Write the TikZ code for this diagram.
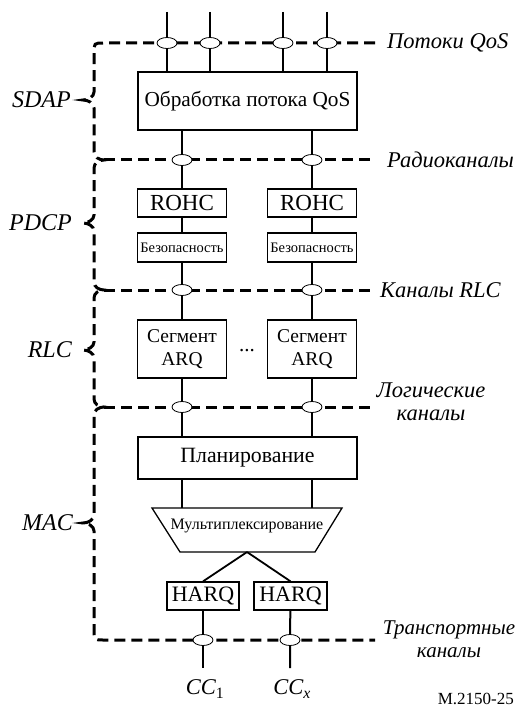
\documentclass[tikz,border=0pt]{standalone}
\usepackage{fontspec}
\setmainfont{Liberation Serif}
\newfontfamily\diagfont{Liberation Serif}
\usetikzlibrary{shapes.geometric}
\begin{document}
\begin{tikzpicture}[x=1pt,y=-1pt,
  box/.style={draw,line width=1.3pt,inner sep=0pt,align=center,font=\diagfont\fontsize{21}{24}\selectfont},
  port/.style={draw,ellipse,fill=white,line width=0.8pt,minimum width=20pt,minimum height=11pt,inner sep=0pt},
  link/.style={line width=2pt},
  layer/.style={line width=3pt,dash pattern=on 11pt off 6pt},
  lbl/.style={inner sep=0pt,font=\diagfont\fontsize{22.5}{23}\selectfont\itshape},
  small/.style={font=\diagfont\fontsize{14.5}{16}\selectfont}]
\useasboundingbox (0,0) rectangle (518,711);

% processing blocks
\node[box,font=\diagfont\fontsize{21.3}{24}\selectfont,minimum width=219pt,minimum height=58pt] (qos) at (247.5,101) {Обработка потока QoS};
\node[box,font=\diagfont\fontsize{23}{24}\selectfont,minimum width=89pt,minimum height=28pt] (rohc1) at (182,203) {ROHC};
\node[box,font=\diagfont\fontsize{23}{24}\selectfont,minimum width=89pt,minimum height=28pt] (rohc2) at (312,203) {ROHC};
\node[box,small,minimum width=89pt,minimum height=29pt] (sec1) at (182,247.5) {Безопасность};
\node[box,small,minimum width=89pt,minimum height=29pt] (sec2) at (312,247.5) {Безопасность};
\node[box,font=\diagfont\fontsize{19.5}{23}\selectfont,minimum width=89pt,minimum height=58pt] (seg1) at (182,349) {Сегмент\\ARQ};
\node[box,font=\diagfont\fontsize{19.5}{23}\selectfont,minimum width=89pt,minimum height=58pt] (seg2) at (312,349) {Сегмент\\ARQ};
\node[font=\diagfont\fontsize{21}{22}\selectfont] (dots) at (247,351) {...};
\node[box,font=\diagfont\fontsize{21.8}{24}\selectfont,minimum width=219pt,minimum height=42pt] (plan) at (247.5,458) {Планирование};
\node[box,font=\diagfont\fontsize{22}{24}\selectfont,minimum width=72pt,minimum height=28pt] (harq1) at (203,596) {HARQ};
\node[box,font=\diagfont\fontsize{22}{24}\selectfont,minimum width=73pt,minimum height=28pt] (harq2) at (290.5,596) {HARQ};

% multiplexing trapezoid
\coordinate (muxtop) at (247,508);
\coordinate (muxbot) at (247,552);
\draw[line width=1.3pt] (152,508) -- (342,508) -- (315,552) -- (180,552) -- cycle;
\node[font=\diagfont\fontsize{16}{17}\selectfont] (mux) at (247,526) {Мультиплексирование};

% left layer boundary with braces
\draw[layer] (375,43) -- (104,43) .. controls (94,43) .. (94,53)
  -- (94,92) .. controls (94,97) and (88,100) .. (83,100) .. controls (88,100) and (94,103) .. (94,108)
  -- (94,152) .. controls (94,157) and (99,160) .. (104,160) .. controls (99,160) and (94,163) .. (94,168)
  -- (94,215) .. controls (94,220) and (88,223) .. (83,223) .. controls (88,223) and (94,226) .. (94,231)
  -- (94,282) .. controls (94,287) and (99,290) .. (104,290) .. controls (99,290) and (94,293) .. (94,298)
  -- (94,342) .. controls (94,347) and (88,350) .. (83,350) .. controls (88,350) and (94,353) .. (94,358)
  -- (94,399) .. controls (94,404) and (99,407) .. (104,407) .. controls (99,407) and (94,410) .. (94,415)
  -- (94,515) .. controls (94,520) and (88,523) .. (83,523) .. controls (88,523) and (94,526) .. (94,531)
  -- (94,630) .. controls (94,640) .. (104,640) -- (375,640);
\draw[layer] (104,160) -- (375,160);
\draw[layer] (104,290) -- (375,290);
\draw[layer] (104,407) -- (375,407);

% ports on the layer boundaries
\node[port] (q1) at (167,43) {};
\node[port] (q2) at (210,43) {};
\node[port] (q3) at (283,43) {};
\node[port] (q4) at (327,43) {};
\node[port] (r1) at (182,160) {};
\node[port] (r2) at (312,160) {};
\node[port] (c1) at (182,290) {};
\node[port] (c2) at (312,290) {};
\node[port] (g1) at (182,407) {};
\node[port] (g2) at (312,407) {};
\node[port] (k1) at (203,640) {};
\node[port] (k2) at (290,640) {};

% flow ends
\coordinate (t1) at (167,12);
\coordinate (t2) at (210,12);
\coordinate (t3) at (283,12);
\coordinate (t4) at (327,12);
\coordinate (b1) at (203,668);
\coordinate (b2) at (290,668);

% connectors
\foreach \i in {1,2,3,4} \draw[link] (t\i) -- (q\i) -- (q\i |- qos.north);
\foreach \i in {1,2} {
  \draw[link] (qos.south -| r\i) -- (r\i) -- (rohc\i);
  \draw[link] (rohc\i) -- (sec\i) -- (c\i) -- (seg\i) -- (g\i) -- (g\i |- plan.north);
  \draw[link] (plan.south -| g\i) -- (g\i |- muxtop);
  \draw[link] (harq\i) -- (k\i) -- (b\i);
}
\draw[line width=1.8pt] (muxbot) -- (harq1.north);
\draw[line width=1.8pt] (muxbot) -- (harq2.north);

% labels
\node[lbl,anchor=west] (lq) at (387,43) {Потоки QoS};
\node[lbl,anchor=west] (lr) at (387,160) {Радиоканалы};
\node[lbl,anchor=west] (lc) at (380,290) {Каналы RLC};
\node[lbl,align=center] (lg) at (431,402) {Логические\\каналы};
\node[lbl,font=\diagfont\fontsize{21}{22.5}\selectfont\itshape,align=center] (lt) at (449,639) {Транспортные\\каналы};
\node[lbl,font=\diagfont\fontsize{24}{25}\selectfont\itshape,anchor=east] (ls) at (71,100) {SDAP};
\node[lbl,font=\diagfont\fontsize{24}{25}\selectfont\itshape,anchor=east] (lp) at (72,223) {PDCP};
\node[lbl,font=\diagfont\fontsize{24}{25}\selectfont\itshape,anchor=east] (ll) at (72,350) {RLC};
\node[lbl,font=\diagfont\fontsize{24}{25}\selectfont\itshape,anchor=east] (lm) at (73,523) {MAC};
\node[lbl] (cc1) at (205,689) {CC\textsubscript{\upshape 1}};
\node[lbl] (cc2) at (292,689) {CC\textsubscript{x}};
\node[anchor=east,inner sep=0pt,font=\diagfont\fontsize{17}{18}\selectfont] (fig) at (514,699) {M.2150-25};
\end{tikzpicture}
\end{document}
